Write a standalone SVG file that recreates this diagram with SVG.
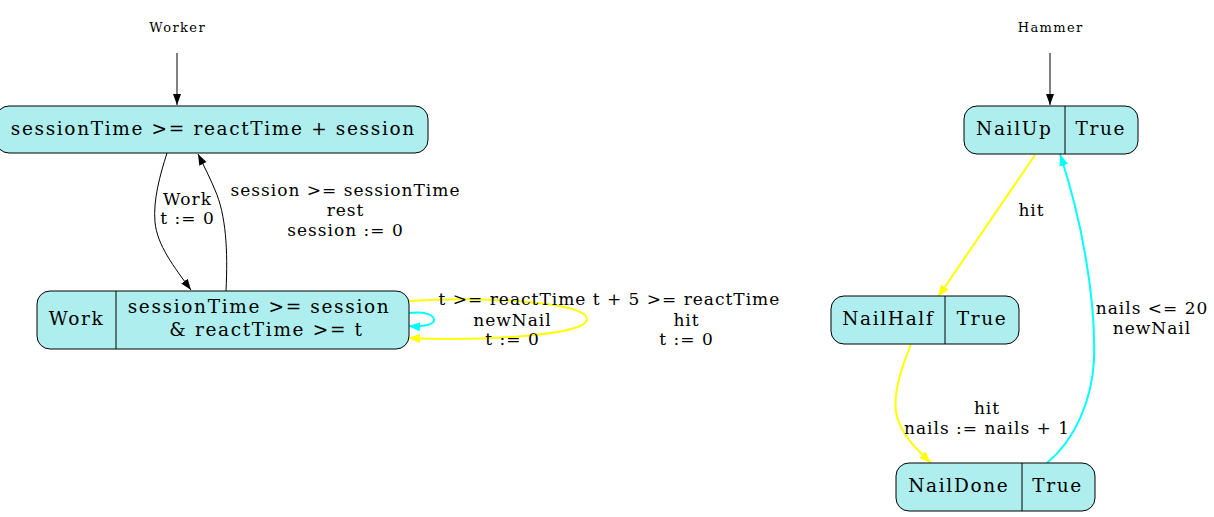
<svg xmlns="http://www.w3.org/2000/svg" width="1214" height="517" viewBox="0 0 1214 517">
<style>
.node{fill:#afeeee;stroke:#000;stroke-width:1}
.div{stroke:#000;stroke-width:1}
.nt{font-family:"DejaVu Serif",serif;font-size:18.5px;letter-spacing:1.65px;fill:#000;text-anchor:middle}
.et{font-family:"DejaVu Serif",serif;font-size:17px;letter-spacing:1px;fill:#000;text-anchor:middle}
.st{font-family:"DejaVu Serif",serif;font-size:13px;letter-spacing:1.4px;fill:#000;text-anchor:middle}
.eb{fill:none;stroke:#000;stroke-width:1}
.ey{fill:none;stroke:#ffff00;stroke-width:2}
.ec{fill:none;stroke:#00ffff;stroke-width:2}
</style>
<defs>
<marker id="ab" markerUnits="userSpaceOnUse" markerWidth="12" markerHeight="9" refX="11" refY="4" orient="auto"><path d="M0,0 L11,4 L0,8 z" fill="#000"/></marker>
<marker id="ay" markerUnits="userSpaceOnUse" markerWidth="14" markerHeight="11" refX="12" refY="4.5" orient="auto"><path d="M0,0 L12,4.5 L0,9 z" fill="#ffff00"/></marker>
<marker id="ac" markerUnits="userSpaceOnUse" markerWidth="14" markerHeight="11" refX="12" refY="4.5" orient="auto"><path d="M0,0 L12,4.5 L0,9 z" fill="#00ffff"/></marker>
</defs>
<g id="connectors">
<path class="eb" d="M177,53 L177,105" marker-end="url(#ab)"/>
<path class="eb" d="M1050,53 L1050,105" marker-end="url(#ab)"/>
<path class="eb" d="M167,153 C160,175 153,200 155,222 C157,245 174,267 191,290" marker-end="url(#ab)"/>
<path class="eb" d="M226,291 C228,250 226,215 215,190 C210,178 204,166 198,154" marker-end="url(#ab)"/>
<path class="ey" d="M409,301 C480,296 587,302 587,319 C587,336 480,341 408,338" marker-end="url(#ay)"/>
<path class="ec" d="M409,313 C425,311 434,315 434,320 C434,325 422,327 408,326" marker-end="url(#ac)"/>
<path class="ey" d="M1035,155 L938,297" marker-end="url(#ay)"/>
<path class="ey" d="M911,344 C903,365 893,390 896,412 C899,432 915,448 931,463" marker-end="url(#ay)"/>
<path class="ec" d="M1047,463 C1075,440 1092,400 1094,360 C1096,300 1082,220 1060,154" marker-end="url(#ac)"/>
<text class="et" x="187.5" y="205">Work</text>
<text class="et" x="187.5" y="224">t := 0</text>
<text class="et" x="345.5" y="196">session &gt;= sessionTime</text>
<text class="et" x="345.5" y="216">rest</text>
<text class="et" x="345.5" y="236">session := 0</text>
<text class="et" x="512.5" y="305">t &gt;= reactTime</text>
<text class="et" x="512.5" y="326">newNail</text>
<text class="et" x="512.5" y="345">t := 0</text>
<text class="et" x="686.5" y="305">t + 5 &gt;= reactTime</text>
<text class="et" x="686.5" y="326">hit</text>
<text class="et" x="686.5" y="345">t := 0</text>
<text class="et" x="1031.5" y="216">hit</text>
<text class="et" x="1152" y="314">nails &lt;= 20</text>
<text class="et" x="1152" y="334">newNail</text>
<text class="et" x="987" y="414">hit</text>
<text class="et" x="987" y="434">nails := nails + 1</text>
</g>
<g id="worker-label"><text class="st" x="177.7" y="32">Worker</text></g>
<g id="hammer-label"><text class="st" x="1050.7" y="32">Hammer</text></g>
<g id="rest-state">
<rect class="node" x="-4" y="106" width="432" height="47" rx="13"/>
<text class="nt" x="213.3" y="135">sessionTime &gt;= reactTime + session</text>
</g>
<g id="work-state">
<rect class="node" x="37" y="291" width="372" height="58" rx="13"/>
<line class="div" x1="116" y1="291" x2="116" y2="349"/>
<text class="nt" x="76.6" y="325">Work</text>
<text class="nt" x="259" y="313">sessionTime &gt;= session</text>
<text class="nt" x="266.5" y="336">&amp; reactTime &gt;= t</text>
</g>
<g id="nailup">
<rect class="node" x="964" y="106" width="174" height="48" rx="13"/>
<line class="div" x1="1065" y1="106" x2="1065" y2="154"/>
<text class="nt" x="1014.3" y="135">NailUp</text>
<text class="nt" x="1100.8" y="135">True</text>
</g>
<g id="nailhalf">
<rect class="node" x="831" y="296" width="188" height="48" rx="13"/>
<line class="div" x1="945" y1="296" x2="945" y2="344"/>
<text class="nt" x="888.3" y="325">NailHalf</text>
<text class="nt" x="982" y="325">True</text>
</g>
<g id="naildone">
<rect class="node" x="896" y="463" width="199" height="48" rx="13"/>
<line class="div" x1="1022" y1="463" x2="1022" y2="511"/>
<text class="nt" x="958.8" y="492">NailDone</text>
<text class="nt" x="1057.5" y="492">True</text>
</g>
</svg>
